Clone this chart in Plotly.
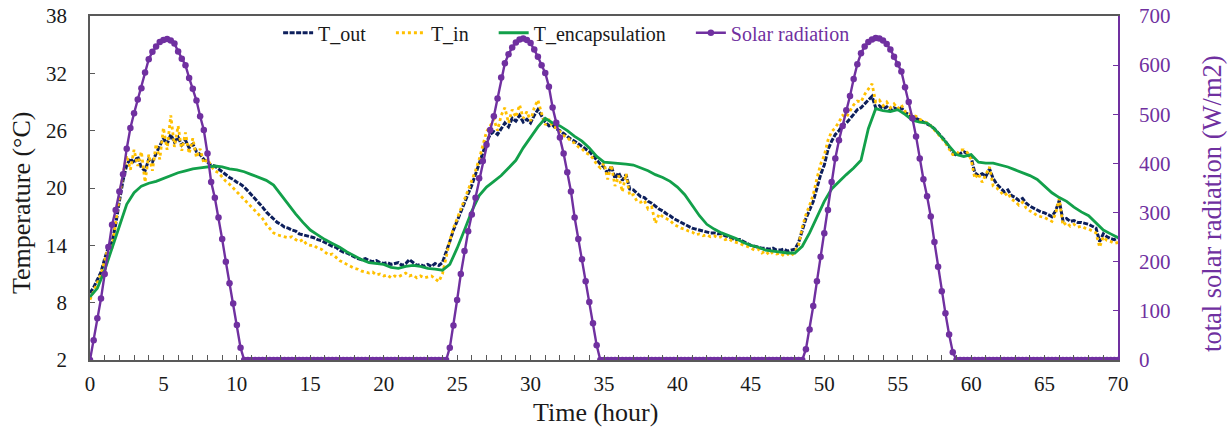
import numpy as np
import plotly.graph_objects as go

# ---------------- data ----------------
# time grid (hours), 15-minute sampling
hours_q = np.arange(0, 70.0001, 0.25)
# time grid (hours), 30-minute sampling for the encapsulation temperature
hours_h = np.arange(0, 70.0001, 0.5)

t_out = [
    9.0, 9.6, 10.4, 11.2, 12.6, 13.8, 14.3, 16.2, 18.6, 20.8, 22.4, 23.1, 22.6, 23.3, 22.1, 21.8, 23.0, 22.7, 23.6, 24.4,
    25.2, 24.6, 25.6, 24.8, 25.3, 24.5, 25.0, 24.2, 24.6, 23.8, 23.5, 23.0, 22.7, 22.4, 22.3, 22.0, 21.7, 21.4, 21.1, 20.9,
    20.6, 20.4, 20.1, 19.7, 19.3, 18.8, 18.4, 18.0, 17.5, 17.1, 16.8, 16.4, 16.2, 15.9, 15.8, 15.6, 15.5, 15.2, 15.1, 15.0,
    14.9, 14.8, 14.6, 14.5, 14.3, 14.1, 13.9, 13.8, 13.5, 13.3, 13.2, 13.0, 12.8, 12.6, 12.5, 12.6, 12.4, 12.3, 12.4, 12.2,
    12.1, 12.2, 12.0, 12.1, 12.2, 11.9, 12.1, 12.5, 12.2, 11.9, 12.0, 11.8, 12.0, 11.8, 12.1, 11.9, 12.2, 13.2, 14.4, 15.6,
    16.6, 17.5, 18.4, 19.4, 20.3, 21.4, 22.5, 23.6, 24.8, 25.6, 25.9, 25.6, 26.2, 26.8, 26.4, 27.3, 27.0, 27.6, 26.9, 27.2,
    26.8, 27.6, 28.2, 27.5, 26.9, 26.5, 26.6, 26.2, 26.0, 25.7, 25.4, 25.1, 24.9, 24.6, 24.3, 24.0, 23.8, 23.4, 22.9, 22.5,
    22.2, 21.5, 22.3, 21.0, 21.6, 20.8, 21.4, 19.9, 19.8, 19.4, 19.1, 19.0, 18.6, 18.4, 18.1, 17.8, 17.6, 17.3, 17.1, 16.8,
    16.6, 16.4, 16.2, 16.0, 15.8, 15.7, 15.6, 15.5, 15.4, 15.3, 15.3, 15.2, 15.2, 15.0, 14.9, 14.7, 14.6, 14.6, 14.4, 14.2,
    14.0, 13.9, 13.8, 13.7, 13.7, 13.6, 13.7, 13.5, 13.5, 13.6, 13.4, 13.5, 13.6, 14.3, 15.6, 16.8, 17.7, 18.6, 20.0, 21.4,
    22.4, 24.0, 24.9, 25.6, 26.0, 26.6, 26.8, 27.2, 27.7, 28.2, 28.4, 28.8, 29.2, 29.6, 28.4, 28.6, 28.3, 28.5, 28.1, 28.4,
    28.2, 28.4, 27.9, 27.7, 27.5, 27.3, 27.1, 26.9, 26.7, 26.5, 26.2, 25.8, 25.4, 24.9, 24.3, 23.7, 23.4, 23.6, 23.8, 23.6,
    23.2, 21.6, 21.3, 21.5, 21.2, 22.0, 21.0, 20.4, 20.0, 19.6, 19.8, 19.2, 19.0, 18.7, 18.9, 18.4, 18.1, 17.9, 17.7, 17.5,
    17.4, 17.2, 17.0, 17.6, 18.7, 16.6, 16.8, 16.5, 16.6, 16.4, 16.4, 16.3, 16.2, 16.0, 15.8, 14.4, 15.2, 14.9, 14.7, 14.6,
    14.8,
]

t_in = [
    8.3, 9.2, 10.1, 11.0, 12.4, 13.9, 13.8, 16.6, 19.0, 21.5, 23.4, 21.9, 24.0, 22.3, 23.8, 20.6, 23.5, 21.8, 24.6, 23.0,
    26.3, 24.0, 27.6, 24.3, 26.5, 23.9, 25.8, 23.6, 25.2, 23.2, 24.1, 22.6, 23.0, 22.3, 21.8, 21.6, 21.1, 20.7, 20.4, 20.0,
    19.7, 19.3, 18.9, 18.5, 18.1, 17.7, 17.3, 16.8, 16.2, 15.7, 15.3, 15.1, 15.0, 14.9, 14.8, 14.9, 14.6, 14.4, 14.6, 14.1,
    14.0, 14.0, 13.7, 13.6, 13.3, 13.0, 13.1, 12.7, 12.4, 12.2, 12.0, 11.8, 11.6, 11.5, 11.3, 11.2, 11.1, 11.2, 10.9, 11.0,
    10.8, 10.9, 10.6, 10.8, 10.7, 10.9, 11.1, 10.8, 10.9, 10.6, 10.8, 10.6, 10.7, 10.8, 10.5, 10.2, 11.0, 12.8, 14.5, 15.8,
    16.8, 17.8, 18.8, 19.7, 20.8, 21.8, 23.0, 24.4, 25.9, 26.5, 27.2, 26.0, 27.6, 28.4, 26.8, 28.2, 27.4, 28.7, 27.3, 28.0,
    27.0, 28.4, 29.2, 27.8, 26.6, 27.2, 26.4, 26.3, 25.9, 25.5, 25.3, 24.9, 24.7, 24.3, 24.1, 23.7, 23.5, 23.1, 22.5, 22.1,
    22.6, 20.9, 22.4, 20.2, 21.3, 19.6, 21.5, 19.2, 19.3, 18.6, 18.5, 18.7, 17.8, 18.0, 16.3, 17.3, 17.0, 16.8, 16.6, 16.2,
    16.0, 15.8, 15.7, 15.5, 15.4, 15.1, 15.2, 15.0, 15.1, 14.9, 15.0, 14.8, 14.9, 14.6, 14.7, 14.4, 14.3, 14.2, 14.0, 13.9,
    13.7, 13.5, 13.6, 13.2, 13.4, 13.0, 13.3, 13.1, 13.2, 12.9, 13.1, 12.9, 13.3, 14.0, 15.9, 17.2, 18.2, 19.3, 21.0, 22.5,
    23.4, 25.0, 25.9, 26.3, 26.9, 27.6, 27.4, 28.0, 28.7, 29.1, 29.0, 29.8, 30.4, 30.9, 29.0, 29.2, 28.6, 29.0, 28.4, 28.8,
    28.3, 28.7, 28.0, 27.9, 27.6, 27.5, 27.2, 27.0, 26.8, 26.5, 26.1, 25.6, 25.2, 24.7, 24.1, 23.5, 23.5, 24.0, 24.0, 23.7,
    23.0, 21.0, 21.5, 20.6, 21.4, 22.2, 20.2, 20.0, 19.6, 19.2, 19.5, 18.8, 18.6, 18.2, 18.5, 17.9, 17.6, 17.4, 17.1, 17.0,
    16.9, 16.7, 16.5, 17.3, 18.9, 16.1, 16.4, 16.0, 16.2, 15.9, 16.0, 15.8, 15.7, 15.5, 15.3, 13.8, 14.9, 14.5, 14.4, 14.2,
    14.3,
]

t_encapsulation = [
    8.6, 9.5, 11.4, 13.6, 16.0, 18.3, 19.5, 20.2, 20.5, 20.7,
    21.0, 21.3, 21.6, 21.8, 22.0, 22.1, 22.2, 22.3, 22.2, 22.0,
    21.9, 21.7, 21.4, 21.1, 20.8, 20.3, 19.3, 18.2, 17.3, 16.4,
    15.6, 15.1, 14.6, 14.2, 13.8, 13.3, 12.9, 12.5, 12.2, 12.1,
    12.0, 11.7, 11.6, 11.8, 11.9, 11.8, 11.6, 11.5, 11.4, 12.0,
    13.7, 15.6, 17.6, 19.2, 20.1, 20.7, 21.3, 22.1, 22.9, 24.2,
    25.3, 26.4, 27.3, 26.8, 26.5, 26.0, 25.4, 24.9, 24.2, 23.3,
    22.7, 22.65, 22.6, 22.5, 22.4, 22.1, 21.8, 21.4, 21.1, 20.7,
    20.1, 19.3, 18.2, 17.1, 16.2, 15.7, 15.3, 15.0, 14.7, 14.3,
    14.0, 13.8, 13.5, 13.4, 13.3, 13.2, 13.2, 13.9, 15.3, 17.0,
    18.6, 19.9, 20.7, 21.4, 22.1, 22.9, 26.2, 28.3, 28.1, 28.0,
    28.2, 27.7, 27.1, 26.9, 26.8, 26.2, 25.3, 24.4, 23.5, 23.3,
    23.5, 22.7, 22.6, 22.6, 22.4, 22.2, 21.9, 21.6, 21.3, 20.9,
    20.2, 19.5, 19.0, 18.6, 18.0, 17.5, 17.1, 16.3, 15.6, 15.2,
    14.8,
]

# solar radiation (W/m2), daylight periods at 15-minute steps
solar_day1 = [0, 40, 85, 125, 175, 230, 275, 305, 343, 378, 430, 472, 502, 530, 553, 585, 612, 627, 638, 647,
              651, 653, 650, 644, 628, 613, 600, 574, 552, 528, 496, 468, 420, 362, 330, 290, 246, 200, 156, 115,
              71, 25, 0]
solar_day2 = [0, 25, 70, 122, 175, 222, 262, 296, 330, 370, 405, 438, 468, 496, 532, 575, 604, 622, 636, 646,
              652, 654, 651, 645, 632, 617, 600, 584, 556, 514, 483, 453, 420, 382, 343, 290, 246, 205, 160, 118,
              75, 30, 0]
solar_day3 = [0, 22, 62, 110, 160, 210, 258, 305, 362, 410, 447, 476, 508, 537, 572, 602, 624, 638, 647, 652,
              655, 654, 650, 643, 632, 617, 602, 587, 555, 525, 492, 455, 410, 368, 333, 292, 240, 190, 140, 95,
              52, 16, 0]
solar_night1 = [0] * 54   # 10.75 h .. 24.0 h
solar_night2 = [0] * 54   # 35.0 h .. 48.25 h
solar_night3 = [0] * 44   # 59.25 h .. 70.0 h
solar = solar_day1 + solar_night1 + solar_day2 + solar_night2 + solar_day3 + solar_night3

x_ticks = [0, 5, 10, 15, 20, 25, 30, 35, 40, 45, 50, 55, 60, 65, 70]
y_ticks = [2, 8, 14, 20, 26, 32, 38]
y2_ticks = [0, 100, 200, 300, 400, 500, 600, 700]

# ---------------- style ----------------
FONT = "Liberation Serif"
NAVY = "#0D1F5C"
ORANGE = "#FFC000"
GREEN = "#12A04A"
PURPLE = "#7030A0"
AXIS = "#595959"
SP = "\u2002\u2002"  # spacing between legend entries

fig = go.Figure()
fig.add_trace(go.Scatter(x=hours_q, y=t_out, name="T_out" + SP, mode="lines",
                         line=dict(color=NAVY, width=3, dash="5px,1.5px"), yaxis="y"))
fig.add_trace(go.Scatter(x=hours_q, y=t_in, name="T_in" + SP, mode="lines",
                         line=dict(color=ORANGE, width=2.8, dash="dot"), yaxis="y"))
fig.add_trace(go.Scatter(x=hours_h, y=t_encapsulation, name="T_encapsulation" + SP, mode="lines",
                         line=dict(color=GREEN, width=2.8), yaxis="y"))
fig.add_trace(go.Scatter(x=hours_q, y=solar,
                         name='<span style="color:#7030A0">Solar radiation</span>',
                         mode="lines+markers",
                         line=dict(color=PURPLE, width=2.4),
                         marker=dict(color=PURPLE, size=6.5),
                         yaxis="y2"))

fig.update_layout(
    width=1229, height=429,
    margin=dict(l=90, r=111, t=16, b=69),
    paper_bgcolor="white", plot_bgcolor="white",
    font=dict(family=FONT, size=21, color="#1a1a1a"),
    showlegend=True,
    legend=dict(orientation="h", x=0.183, xanchor="left", y=1.008, yanchor="top",
                bgcolor="rgba(0,0,0,0)", font=dict(family=FONT, size=20, color="#1a1a1a"),
                itemwidth=30, tracegroupgap=0),
    xaxis=dict(range=[0, 70], tickvals=x_ticks, ticks="inside", ticklen=5, tickcolor=AXIS,
               showline=True, linecolor=AXIS, linewidth=1.5, mirror=True,
               showgrid=False, zeroline=False, automargin=False,
               ticklabelstandoff=4,
               minor=dict(dtick=1, ticks="inside", ticklen=5, tickcolor=AXIS)),
    yaxis=dict(range=[2, 38], tickvals=y_ticks, ticks="inside", ticklen=5, tickcolor=AXIS,
               showline=True, linecolor=AXIS, linewidth=1.5,
               showgrid=False, zeroline=False, automargin=False,
               ticklabelstandoff=17),
    yaxis2=dict(range=[0, 700], tickvals=y2_ticks, overlaying="y", side="right",
                ticks="inside", ticklen=5, tickcolor=PURPLE,
                showline=True, linecolor=PURPLE, linewidth=1.5,
                showgrid=False, zeroline=False, automargin=False,
                ticklabelstandoff=15,
                tickfont=dict(color=PURPLE)),
    annotations=[
        dict(text="Time (hour)", xref="paper", yref="paper", x=0.4922, y=-0.1512,
             xanchor="center", yanchor="middle", showarrow=False,
             font=dict(family=FONT, size=26, color="#1a1a1a")),
        dict(text="Temperature (°C)", xref="paper", yref="paper", x=-0.0661, y=0.4564,
             xanchor="center", yanchor="middle", showarrow=False, textangle=-90,
             font=dict(family=FONT, size=26, color="#1a1a1a")),
        dict(text="total solar radiation (W/m2)", xref="paper", yref="paper", x=1.0914, y=0.4564,
             xanchor="center", yanchor="middle", showarrow=False, textangle=-90,
             font=dict(family=FONT, size=26.5, color=PURPLE)),
    ],
)

fig.write_html("out.html")
